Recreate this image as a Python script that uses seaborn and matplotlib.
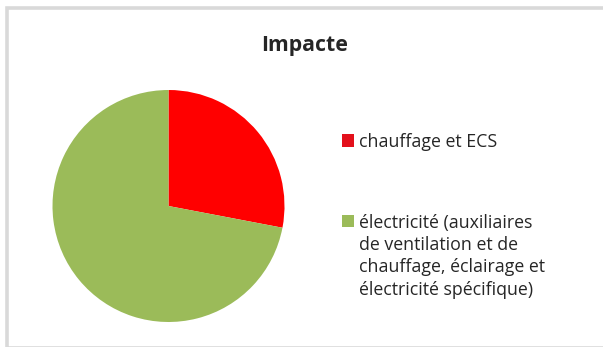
import matplotlib
matplotlib.use("Agg")
import matplotlib.pyplot as plt
import seaborn as sns
from matplotlib.patches import Rectangle

sns.set_theme(style="white")
plt.rcParams["font.family"] = ["Open Sans", "DejaVu Sans"]

# Share of impact by use
categories = [
    "chauffage et ECS",
    "électricité (auxiliaires\nde ventilation et de\nchauffage, éclairage et\nélectricité spécifique)",
]
values = [28, 72]
wedge_colors = ["#FF0000", "#9BBB59"]
legend_colors = ["#E3101B", "#9BBB59"]
title = "Impacte"

W, H = 603, 347
fig = plt.figure(figsize=(W / 100, H / 100), dpi=100)
fig.patch.set_facecolor("white")

# Chart frame
fig.patches.append(Rectangle((7 / W, -0.5 / H), (W + 20) / W, (H - 8 + 0.5) / H,
                             transform=fig.transFigure, fill=False,
                             edgecolor="#D9D9D9", linewidth=2.6, zorder=0))

cx, cy, r = 168.5, 206, 116
ax = fig.add_axes([(cx - r) / W, (H - cy - r) / H, 2 * r / W, 2 * r / H])
wedges, _ = ax.pie(values, colors=wedge_colors, startangle=90, counterclock=False,
                   wedgeprops=dict(linewidth=0))
ax.set_xlim(-1, 1)
ax.set_ylim(-1, 1)
ax.set_aspect("equal")
ax.axis("off")

fig.text(305 / W, 1 - 46 / H, title, ha="center", va="center",
         fontsize=15.3, fontweight="bold", color="#262626")

# Legend: square key beside the first line of each label
key_x, key_size, text_x = 341.5, 12.5, 359
entry_tops = [134, 214.5]
for label, color, top in zip(categories, legend_colors, entry_tops):
    fig.patches.append(Rectangle((key_x / W, 1 - (top + key_size) / H),
                                 key_size / W, key_size / H,
                                 transform=fig.transFigure, facecolor=color,
                                 edgecolor="none"))
    fig.text(text_x / W, 1 - (top + key_size / 2) / H, label.split("\n")[0],
             ha="left", va="center_baseline", fontsize=12.8, color="#262626")
    rest = label.split("\n")[1:]
    for i, line in enumerate(rest, start=1):
        fig.text(text_x / W, 1 - (top + key_size / 2 + 22.3 * i) / H, line,
                 ha="left", va="center_baseline", fontsize=12.8, color="#262626")

fig.savefig("out.png", dpi=100, facecolor="white")
